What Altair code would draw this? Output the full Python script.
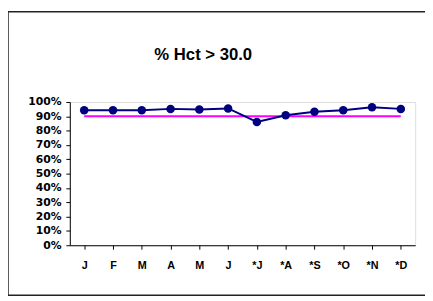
import json
import altair as alt
import pandas as pd

months = ["J", "F", "M", "A", "M", "J", "*J", "*A", "*S", "*O", "*N", "*D"]
pct_hct = [94.3, 94.3, 94.3, 95.2, 94.8, 95.5, 86.1, 90.7, 93.2, 94.3, 96.4, 95.2]
target = [90, 90, 90, 90, 90, 90, 90, 90, 90, 90, 90, 90]
y_ticks = [0, 0.1, 0.2, 0.3, 0.4, 0.5, 0.6, 0.7, 0.8, 0.9, 1.0]
title_text = "% Hct > 30.0"

df = pd.DataFrame({
    "idx": list(range(len(months))),
    "value": [v / 100 for v in pct_hct],
    "target": [t / 100 for t in target],
})

label_expr = json.dumps(months) + "[datum.value]"

x_enc = alt.X(
    "idx:O",
    title=None,
    scale=alt.Scale(paddingInner=0, paddingOuter=0),
    axis=alt.Axis(
        labelExpr=label_expr, labelAngle=0, bandPosition=0,
        tickSize=4, tickColor="black", domainColor="black",
        labelFont="Liberation Sans", labelFontWeight="bold", labelFontSize=11,
        labelColor="black", labelPadding=11, grid=False,
    ),
)
y_scale = alt.Scale(domain=[0, 1], nice=False)
y_axis = alt.Axis(
    format="%", values=y_ticks, tickSize=4, tickColor="black",
    domainColor="black", labelFont="DejaVu Sans", labelFontWeight="bold",
    labelFontSize=11, labelColor="black", labelPadding=5, grid=False,
)

frame = alt.Chart(alt.Data(values=[{}])).mark_rect(
    fill=None, stroke="#222222", strokeWidth=1.5, clip=False
).encode(
    x=alt.value(-63), x2=alt.value(380), y=alt.value(-92), y2=alt.value(197)
)

title = alt.Chart(alt.Data(values=[{"t": title_text}])).mark_text(
    font="Liberation Sans", fontSize=17, fontWeight="bold", color="black",
    align="center", baseline="middle",
).encode(
    text="t:N", x=alt.value(136), y=alt.value(-48)
)

target_line = alt.Chart(df).mark_line(color="#FF00FF", strokeWidth=2).encode(
    x=x_enc,
    y=alt.Y("target:Q", scale=y_scale, axis=y_axis, title=None),
)

series = alt.Chart(df).mark_line(
    color="#000080", strokeWidth=2,
    point=alt.OverlayMarkDef(color="#000080", size=75, filled=True, opacity=1),
).encode(
    x=x_enc,
    y=alt.Y("value:Q", scale=y_scale, axis=y_axis, title=None),
)

chart = alt.layer(frame, title, target_line, series).properties(
    width=352,
    height=146,
    autosize=alt.AutoSizeParams(type="none"),
    padding={"left": 63, "top": 93, "right": 10, "bottom": 54},
).configure_view(
    stroke="#888888", strokeWidth=2
).configure(background="white")

chart.save("out.html", embed_options={"renderer": "svg", "actions": False})
